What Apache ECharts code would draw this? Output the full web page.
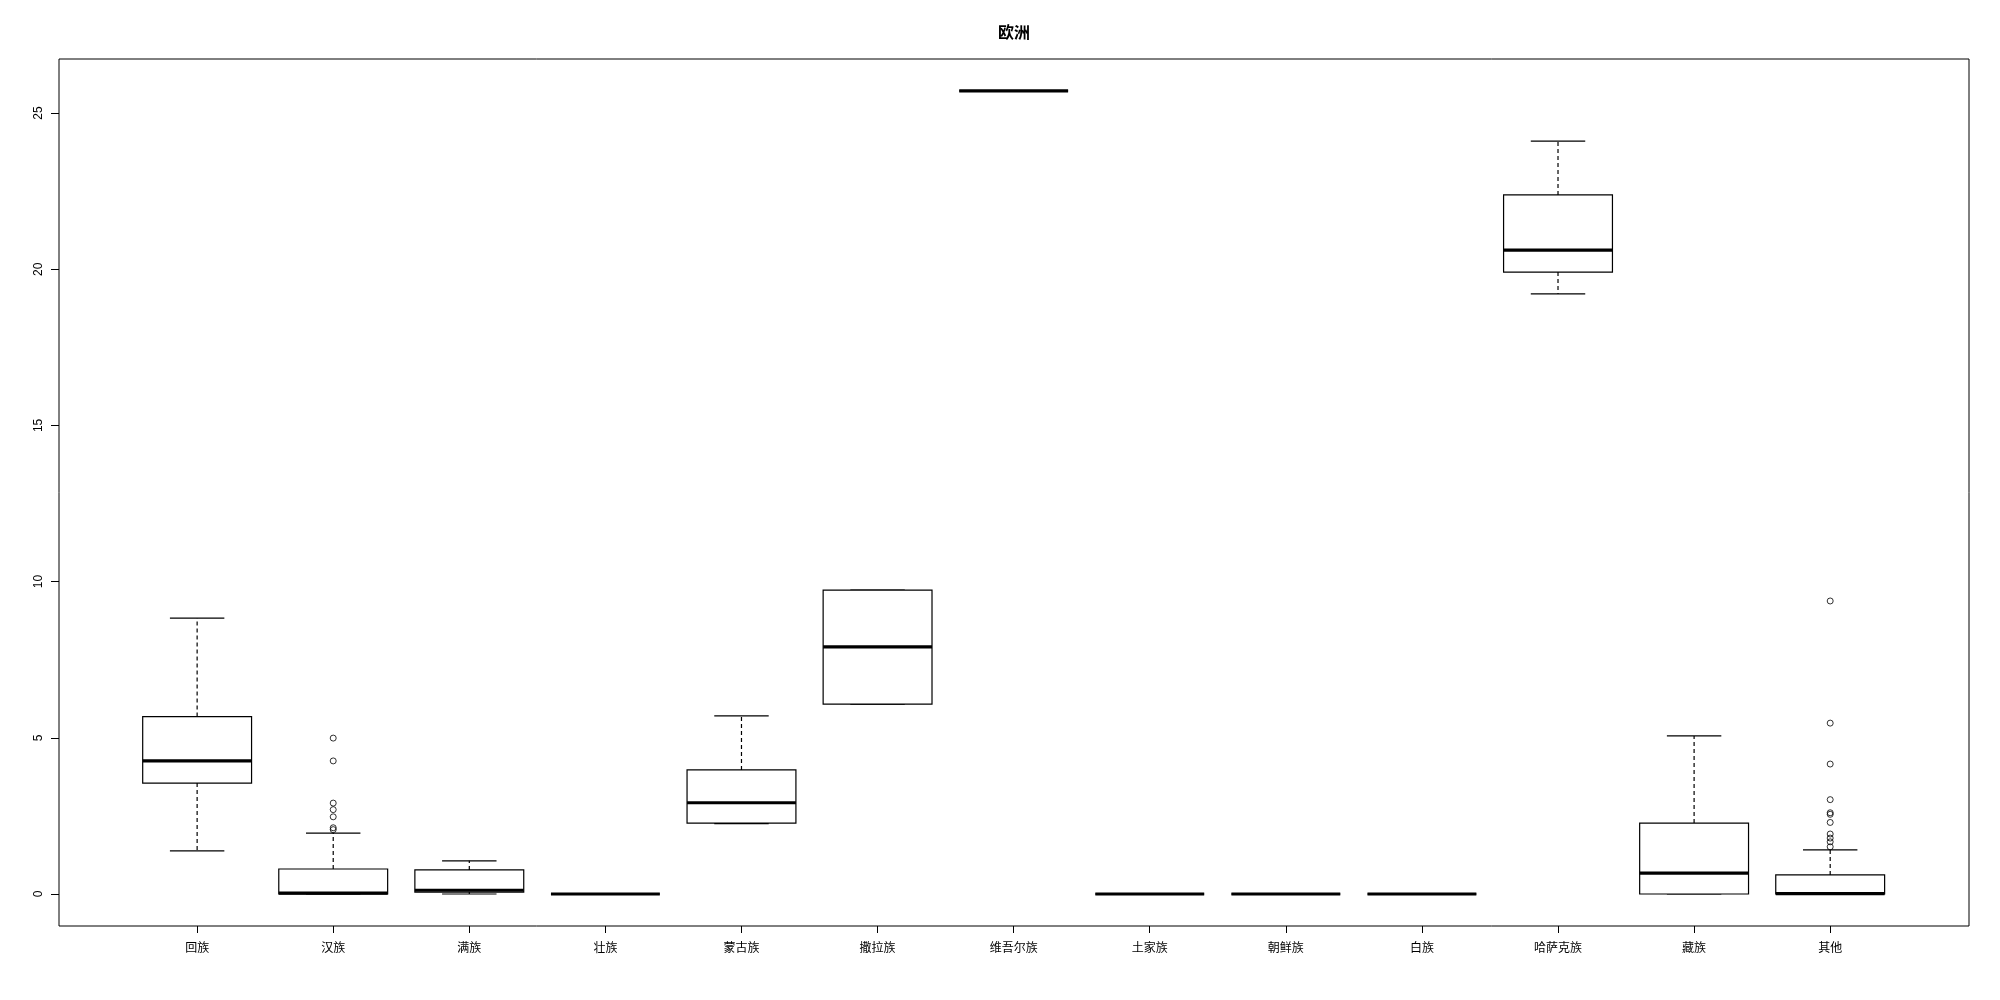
<!DOCTYPE html>
<html>
<head>
<meta charset="utf-8">
<script src="https://cdn.jsdelivr.net/npm/echarts@6/dist/echarts.min.js"></script>
<style>
html,body{margin:0;padding:0;background:#fff;}
#chart{width:2000px;height:1000px;}
</style>
</head>
<body>
<div id="chart"></div>
<script>
// ---- data ----
const title = '欧洲';
const categories = ['回族','汉族','满族','壮族','蒙古族','撒拉族','维吾尔族','土家族','朝鲜族','白族','哈萨克族','藏族','其他'];
const lowerWhisker = [1.38, 0.00, 0.00, 0, 2.25, 6.08, 25.71, 0, 0, 0, 19.21, 0.00, 0.00];
const q1           = [3.55, 0.00, 0.06, 0, 2.27, 6.08, 25.71, 0, 0, 0, 19.91, 0.00, 0.00];
const median       = [4.26, 0.03, 0.12, 0, 2.92, 7.91, 25.71, 0, 0, 0, 20.61, 0.67, 0.01];
const q3           = [5.68, 0.80, 0.77, 0, 3.97, 9.73, 25.71, 0, 0, 0, 22.38, 2.27, 0.61];
const upperWhisker = [8.83, 1.95, 1.06, 0, 5.70, 9.73, 25.71, 0, 0, 0, 24.10, 5.06, 1.41];
const hanOutliers   = [4.99, 4.26, 2.91, 2.70, 2.47, 2.12, 2.06];
const otherOutliers = [9.38, 5.47, 4.16, 3.02, 2.60, 2.55, 2.29, 1.92, 1.79, 1.67, 1.51];
const yTicks = [0, 5, 10, 15, 20, 25];

// ---- build ----
const boxData = categories.map((c, i) => [i, lowerWhisker[i], q1[i], median[i], q3[i], upperWhisker[i]]);
const outlierData = []
  .concat(hanOutliers.map(v => [categories.indexOf('汉族'), v]))
  .concat(otherOutliers.map(v => [categories.indexOf('其他'), v]));
const catIdx = categories.map((c, i) => i);

const LW = 1.2;
function renderItem(params, api) {
  const x = api.value(0);
  const pLo = api.coord([x, api.value(1)]);
  const pQ1 = api.coord([x, api.value(2)]);
  const pMed = api.coord([x, api.value(3)]);
  const pQ3 = api.coord([x, api.value(4)]);
  const pHi = api.coord([x, api.value(5)]);
  const half = api.size([0.8, 0])[0] / 2;
  const cap = half / 2;
  const cx = pMed[0];
  const solid = {stroke: '#000', lineWidth: LW, fill: null};
  const dashed = {stroke: '#000', lineWidth: LW, lineDash: [4, 3], fill: null};
  return {
    type: 'group',
    children: [
      {type: 'line', shape: {x1: cx, y1: pQ3[1], x2: cx, y2: pHi[1]}, style: dashed},
      {type: 'line', shape: {x1: cx, y1: pQ1[1], x2: cx, y2: pLo[1]}, style: dashed},
      {type: 'line', shape: {x1: cx - cap, y1: pHi[1], x2: cx + cap, y2: pHi[1]}, style: solid},
      {type: 'line', shape: {x1: cx - cap, y1: pLo[1], x2: cx + cap, y2: pLo[1]}, style: solid},
      {type: 'rect', shape: {x: cx - half, y: pQ3[1], width: half * 2, height: pQ1[1] - pQ3[1]},
        style: {stroke: '#000', lineWidth: LW, fill: '#fff'}},
      {type: 'line', shape: {x1: cx - half, y1: pMed[1], x2: cx + half, y2: pMed[1]},
        style: {stroke: '#000', lineWidth: 3.2, fill: null}}
    ]
  };
}

const chart = echarts.init(document.getElementById('chart'), null, {renderer: 'canvas'});
chart.setOption({
  animation: false,
  backgroundColor: '#fff',
  title: {
    text: title,
    left: 1014,
    top: 23,
    padding: 0,
    textAlign: 'center',
    textStyle: {fontFamily: 'Noto Sans CJK SC', fontWeight: 'bold', fontSize: 16, color: '#000', lineHeight: 18}
  },
  grid: {
    left: 59, top: 59, width: 1910, height: 867,
    show: true, borderColor: '#000', borderWidth: 1, backgroundColor: 'transparent',
    containLabel: false
  },
  xAxis: {
    type: 'value',
    position: 'bottom',
    min: -1.015, max: 13.02,
    splitLine: {show: false},
    axisLine: {show: false, onZero: false},
    axisTick: {show: true, length: 7, inside: false, customValues: catIdx, lineStyle: {color: '#000', width: 1}},
    axisLabel: {
      show: true, customValues: catIdx, margin: 15,
      formatter: v => categories[Math.round(v)] || '',
      fontFamily: 'Noto Sans CJK SC', fontSize: 12, color: '#000'
    }
  },
  yAxis: {
    type: 'value',
    position: 'left',
    min: -1.025, max: 26.73,
    splitLine: {show: false},
    axisLine: {show: false, onZero: false},
    axisTick: {show: true, length: 8, customValues: yTicks, lineStyle: {color: '#000', width: 1}},
    axisLabel: {
      show: true, customValues: yTicks, rotate: 90, margin: 14,
      fontFamily: 'Liberation Sans', fontSize: 12, color: '#000'
    }
  },
  series: [
    {
      type: 'custom',
      renderItem: renderItem,
      data: boxData,
      encode: {x: 0, y: [1, 2, 3, 4, 5]},
      clip: false
    },
    {
      type: 'scatter',
      data: outlierData,
      symbol: 'circle',
      symbolSize: 6,
      itemStyle: {color: 'transparent', borderColor: '#000', borderWidth: 1},
      z: 5
    }
  ]
});
</script>
</body>
</html>
